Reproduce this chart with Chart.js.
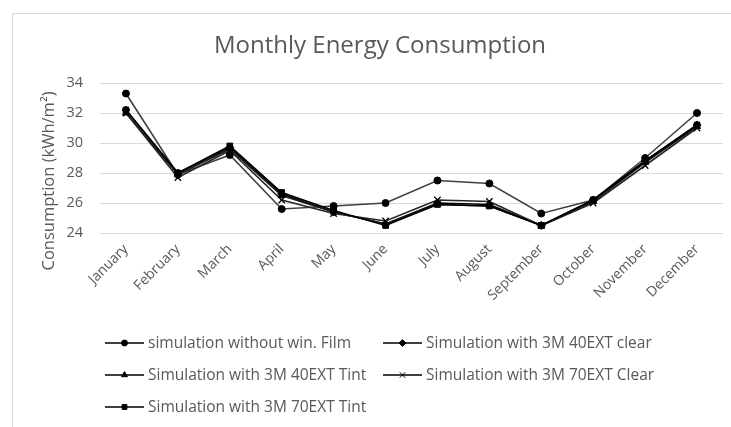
<!DOCTYPE html>
<html>
<head>
<meta charset="utf-8">
<script src="https://cdn.jsdelivr.net/npm/chart.js@4.4.1/dist/chart.umd.min.js"></script>
<style>
  html, body { margin: 0; padding: 0; background: #fff; }
  #wrap { position: absolute; left: 12px; top: 13px; width: 719px; height: 414px;
          border-left: 1px solid #d9d9d9; border-top: 1px solid #d9d9d9; }
  canvas { display: block; }
</style>
</head>
<body>
<div id="wrap"><canvas id="c" width="718" height="413"></canvas></div>
<script>
const months = ["January","February","March","April","May","June","July","August","September","October","November","December"];
const seriesNames = [
  "simulation without win. Film",
  "Simulation with 3M 40EXT clear",
  "Simulation with 3M 40EXT Tint",
  "Simulation with 3M 70EXT Clear",
  "Simulation with 3M 70EXT Tint"
];
const withoutFilm = [33.3, 27.9, 29.2, 25.6, 25.8, 26.0, 27.5, 27.3, 25.3, 26.2, 29.0, 32.0];
const ext40Clear  = [32.2, 28.0, 29.7, 26.6, 25.4, 24.6, 26.0, 25.9, 24.5, 26.2, 28.8, 31.2];
const ext40Tint   = [32.0, 27.9, 29.6, 26.5, 25.4, 24.6, 25.9, 25.8, 24.5, 26.1, 28.7, 31.1];
const ext70Clear  = [32.0, 27.7, 29.5, 26.2, 25.3, 24.8, 26.2, 26.1, 24.5, 26.0, 28.5, 31.0];
const ext70Tint   = [32.2, 28.0, 29.8, 26.7, 25.5, 24.5, 25.9, 25.8, 24.5, 26.2, 28.8, 31.2];
const yTicks = [24, 26, 28, 30, 32, 34];
const yTitle = "Consumption (kWh/m²)";

const FONT = "'Open Sans', 'Noto Sans', sans-serif";
const GREY = "#595959";

const styles = [
  { pointStyle: 'circle',   radius: 3.5, line: '#404040' },
  { pointStyle: 'rectRot',  radius: 4,   line: '#000000' },
  { pointStyle: 'triangle', radius: 4,   line: '#1a1a1a' },
  { pointStyle: 'crossRot', radius: 4.5, line: '#262626' },
  { pointStyle: 'rect',     radius: 4,   line: '#000000' }
];
const allData = [withoutFilm, ext40Clear, ext40Tint, ext70Clear, ext70Tint];

const datasets = allData.map((d, i) => ({
  label: seriesNames[i],
  data: d,
  borderColor: styles[i].line,
  backgroundColor: '#000',
  pointBackgroundColor: '#000',
  pointBorderColor: '#000',
  pointBorderWidth: styles[i].pointStyle === 'crossRot' ? 1.3 : 1,
  borderWidth: 1.6,
  pointStyle: styles[i].pointStyle,
  pointRadius: styles[i].radius,
  tension: 0,
  order: 5 - i
}));

const ox = 13, oy = 14; // page offset of canvas

const extrasPlugin = {
  id: 'extras',
  afterDraw(chart) {
    const ctx = chart.ctx;
    // y-axis title (real text)
    ctx.save();
    ctx.translate(49 - ox, 181 - oy);
    ctx.rotate(-Math.PI / 2);
    ctx.font = "16.5px " + FONT;
    ctx.fillStyle = GREY;
    ctx.textAlign = 'center';
    ctx.textBaseline = 'middle';
    ctx.fillText(yTitle, 0, 0);
    ctx.restore();

    // legend in a 2-column grid
    const cols = [105, 383];
    const rows = [343, 375, 407];
    ctx.save();
    ctx.font = "15.5px " + FONT;
    ctx.textBaseline = 'middle';
    ctx.textAlign = 'left';
    chart.data.datasets.forEach((ds, i) => {
      const cx = cols[i % 2] - ox;
      const cy = rows[Math.floor(i / 2)] - oy;
      ctx.strokeStyle = '#000';
      ctx.lineWidth = 1.6;
      ctx.beginPath();
      ctx.moveTo(cx, cy);
      ctx.lineTo(cx + 39, cy);
      ctx.stroke();
      ctx.fillStyle = '#000';
      ctx.strokeStyle = '#000';
      ctx.lineWidth = 1;
      Chart.helpers.drawPoint(ctx, {
        pointStyle: ds.pointStyle,
        radius: ds.pointRadius * 0.85,
        borderWidth: ds.pointBorderWidth,
        rotation: 0
      }, cx + 19.5, cy);
      ctx.fillStyle = GREY;
      ctx.fillText(ds.label, cx + 43, cy + 1);
    });
    ctx.restore();
  }
};

new Chart(document.getElementById('c'), {
  type: 'line',
  data: { labels: months, datasets },
  plugins: [extrasPlugin],
  options: {
    responsive: false,
    animation: false,
    layout: { padding: { left: 24, right: 8, top: 0, bottom: 0 } },
    plugins: {
      legend: { display: false },
      tooltip: { enabled: false },
      title: {
        display: true,
        text: 'Monthly Energy Consumption',
        color: GREY,
        font: { family: FONT, size: 24, weight: 'normal' },
        padding: { top: 17.5, bottom: 22.7 }
      }
    },
    scales: {
      y: {
        min: 24, max: 34,
        afterBuildTicks(scale) { scale.ticks = yTicks.map(v => ({ value: v })); },
        afterFit(scale) { scale.width = 63; },
        grid: { color: '#d9d9d9', lineWidth: 1, drawTicks: false },
        border: { display: false },
        ticks: { color: GREY, font: { family: FONT, size: 14.5 }, padding: 17 }
      },
      x: {
        offset: true,
        afterFit(scale) { scale.height = 194; },
        grid: { display: false, drawTicks: false, offset: true },
        border: { display: false },
        ticks: { color: GREY, font: { family: FONT, size: 14 }, minRotation: 45, maxRotation: 45, padding: 8, autoSkip: false }
      }
    }
  }
});
</script>
</body>
</html>
